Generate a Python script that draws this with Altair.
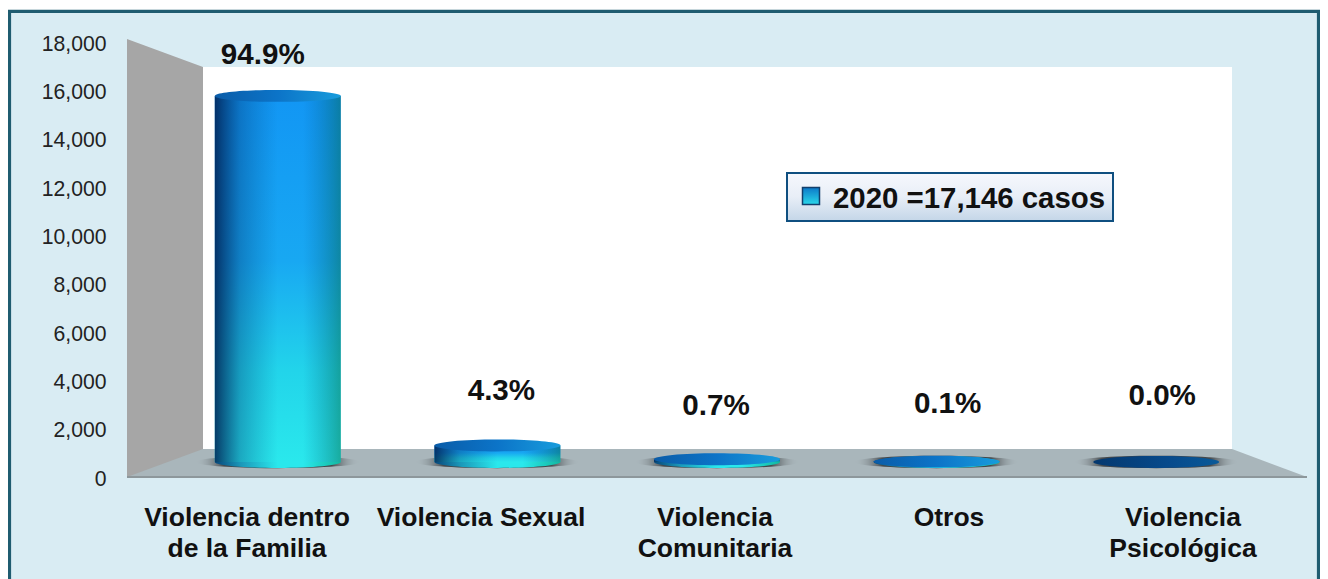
import altair as alt
import pandas as pd

categories = ["Violencia dentro|de la Familia", "Violencia Sexual", "Violencia|Comunitaria", "Otros", "Violencia|Psicológica"]
bar_keys = ["a", "b", "c", "d", "e"]
values = [16272, 737, 120, 17, 0]
percents = ["94.9%", "4.3%", "0.7%", "0.1%", "0.0%"]
ticks = [0, 2000, 4000, 6000, 8000, 10000, 12000, 14000, 16000, 18000]
legend_text = "2020 =17,146 casos"

FONT = "Liberation Sans"
PL, PT, W, H = 128, 43, 1180, 435

df = pd.DataFrame({"key": bar_keys, "value": values, "pct": percents, "cat": categories, "zero": [0] * 5})
one = pd.DataFrame({"a": [0]})


def X(px):
    return px - PL


def Y(py):
    return py - PT


# Bars stand mid-way into the 3D box, so they use their own scale ranges.
bar_x = alt.X("key:N", axis=None, scale=alt.Scale(domain=bar_keys, range=[X(168), X(1266)]))
bar_y_scale = alt.Scale(domain=[0, 18000], range=[Y(462), Y(57)])
label_x = alt.X("cat:N", axis=None, sort=None, scale=alt.Scale(domain=categories, range=[X(130), X(1300)]))


def grad(stops, horizontal=True):
    gs = [alt.GradientStop(color=c, offset=o) for o, c in stops]
    if horizontal:
        return alt.Gradient(gradient="linear", stops=gs, x1=0, x2=1, y1=0, y2=0)
    return alt.Gradient(gradient="linear", stops=gs, x1=0, x2=0, y1=0, y2=1)


def poly(points, fill):
    d = "M" + " L".join(f"{X(x):.2f} {Y(y):.2f}" for x, y in points) + " Z"
    return alt.Chart(one).mark_point(shape=d, size=4, filled=True, fill=fill, opacity=1, strokeWidth=0).encode(
        x=alt.value(0), y=alt.value(0))


def rect(x0, y0, x1, y1, **kw):
    return alt.Chart(one).mark_rect(**kw).encode(
        x=alt.value(X(x0)), x2=alt.value(X(x1)), y=alt.value(Y(y0)), y2=alt.value(Y(y1)))


def ellipse(ratio):
    return f"M-1 0 A1 {ratio} 0 1 0 1 0 A1 {ratio} 0 1 0 -1 0 Z"


frame = rect(9.5, 11.3, 1318.5, 640, fill="#d9ecf3", stroke="#1f5c70", strokeWidth=3.2)
wall = rect(203, 67, 1232, 452, fill="#ffffff")
left_wall = poly([(127, 39), (203, 67), (203, 452), (127, 478)], "#a6a6a6")
floor = poly([(127, 477), (203, 449), (1232, 449), (1307, 477)], "#a9b6bb")
floor_edge = poly([(127, 476), (1307, 476), (1307, 478), (127, 478)], "#8d979b")

y_axis = alt.Chart(pd.DataFrame({"t": ticks})).mark_point(opacity=0).encode(
    y=alt.Y("t:Q", title=None, scale=alt.Scale(domain=[0, 18000], range=[H + 1, 1]),
            axis=alt.Axis(values=ticks, format=",.0f", ticks=False, domain=False, grid=False, labelPadding=22,
                          labelFont=FONT, labelFontSize=21.2, labelColor="#222222", zindex=1)))

shadow = alt.Chart(df).mark_point(
    shape=ellipse(0.075), size=164 ** 2, filled=True, opacity=1, strokeWidth=0,
    fill=alt.Gradient(gradient="radial", stops=[
        alt.GradientStop(color="#3c4144", offset=0), alt.GradientStop(color="#45494c", offset=0.66),
        alt.GradientStop(color="rgba(169,182,187,0)", offset=1)], x1=0.5, y1=0.5, x2=0.5, y2=0.5, r1=0, r2=0.5)
).encode(x=bar_x, y=alt.Y("zero:Q", axis=None, scale=bar_y_scale))

pos = df[df.value > 0]
bottom = alt.Chart(pos).mark_point(
    shape=ellipse(0.095), size=126 ** 2, filled=True, opacity=1, strokeWidth=0,
    fill=grad([(0, "#06467a"), (0.2, "#1a96b8"), (0.5, "#2ae8ec"), (0.7, "#2ae8ec"), (1, "#12b8a0")])
).encode(x=bar_x, y=alt.Y("zero:Q", axis=None, scale=bar_y_scale))

body = alt.Chart(pos).mark_bar(
    size=126, color=grad([(0, "#1296f4"), (0.45, "#18a8f2"), (0.75, "#22d4ea"), (1, "#2ae8ec")], horizontal=False)
).encode(x=bar_x, y=alt.Y("value:Q", axis=None, scale=bar_y_scale))

body_shade = alt.Chart(pos).mark_bar(
    size=126, color=grad([(0, "rgba(0,30,80,0.85)"), (0.2, "rgba(0,50,110,0.35)"), (0.5, "rgba(0,80,140,0)"),
                          (0.7, "rgba(0,80,140,0)"), (1, "rgba(0,90,50,0.42)")])
).encode(x=bar_x, y=alt.Y("value:Q", axis=None, scale=bar_y_scale))

top = alt.Chart(pos).mark_point(
    shape=ellipse(0.095), size=126 ** 2, filled=True, opacity=1, strokeWidth=0,
    fill=grad([(0, "#0a5ca8"), (0.5, "#0c74c8"), (1, "#189cdc")])
).encode(x=bar_x, y=alt.Y("value:Q", axis=None, scale=bar_y_scale))

empty_top = alt.Chart(df[df.value == 0]).mark_point(
    shape=ellipse(0.095), size=126 ** 2, filled=True, opacity=1, strokeWidth=0,
    fill=grad([(0, "#04386e"), (0.6, "#064a8c"), (1, "#0a5a98")])
).encode(x=bar_x, y=alt.Y("value:Q", axis=None, scale=bar_y_scale))

# Hand placement of the percentage labels, as in the original slide.
pct_place = [(-15, 55), (4, 391), (-1, 406), (11, 404), (6, 396)]
pct_layers = [
    alt.Chart(df.iloc[[i]]).mark_text(font=FONT, fontWeight="bold", fontSize=29.6, color="#111111", dx=dx).encode(
        x=bar_x, y=alt.value(Y(py)), text="pct:N")
    for i, (dx, py) in enumerate(pct_place)
]

cat_text = alt.Chart(df).mark_text(
    font=FONT, fontWeight="bold", fontSize=26.5, color="#111111", lineBreak="|", lineHeight=31, baseline="top"
).encode(x=label_x, y=alt.value(Y(505)), text="cat:N")

legend_box = rect(787, 173, 1113, 221, stroke="#0f4f80", strokeWidth=2,
                  fill=grad([(0, "#f6f8fd"), (0.5, "#e8eef7"), (1, "#c4d6e8")], horizontal=False))
legend_key = rect(802.5, 187.5, 819.5, 204.5, stroke="#123f6c", strokeWidth=1.5,
                  fill=grad([(0, "#0c78c8"), (1, "#2ad8ea")], horizontal=False))
legend_label = alt.Chart(pd.DataFrame({"t": [legend_text]})).mark_text(
    font=FONT, fontWeight="bold", fontSize=29.4, color="#111111", align="left").encode(
    x=alt.value(X(833)), y=alt.value(Y(199)), text="t:N")

chart = alt.layer(
    frame, wall, left_wall, floor, floor_edge, y_axis, shadow, bottom, body, body_shade, top, empty_top,
    *pct_layers, cat_text, legend_box, legend_key, legend_label
).resolve_scale(x="independent", y="independent").resolve_axis(x="independent", y="independent").properties(
    width=W, height=H, background="#ffffff",
    padding={"left": PL - 8, "top": PT - 8, "right": 1312 - (PL - 8) - W, "bottom": 571 - (PT - 8) - H},
    autosize=alt.AutoSizeParams(type="none")
).configure_view(stroke=None)

chart.save("out.html", embed_options={"renderer": "svg", "actions": False})
